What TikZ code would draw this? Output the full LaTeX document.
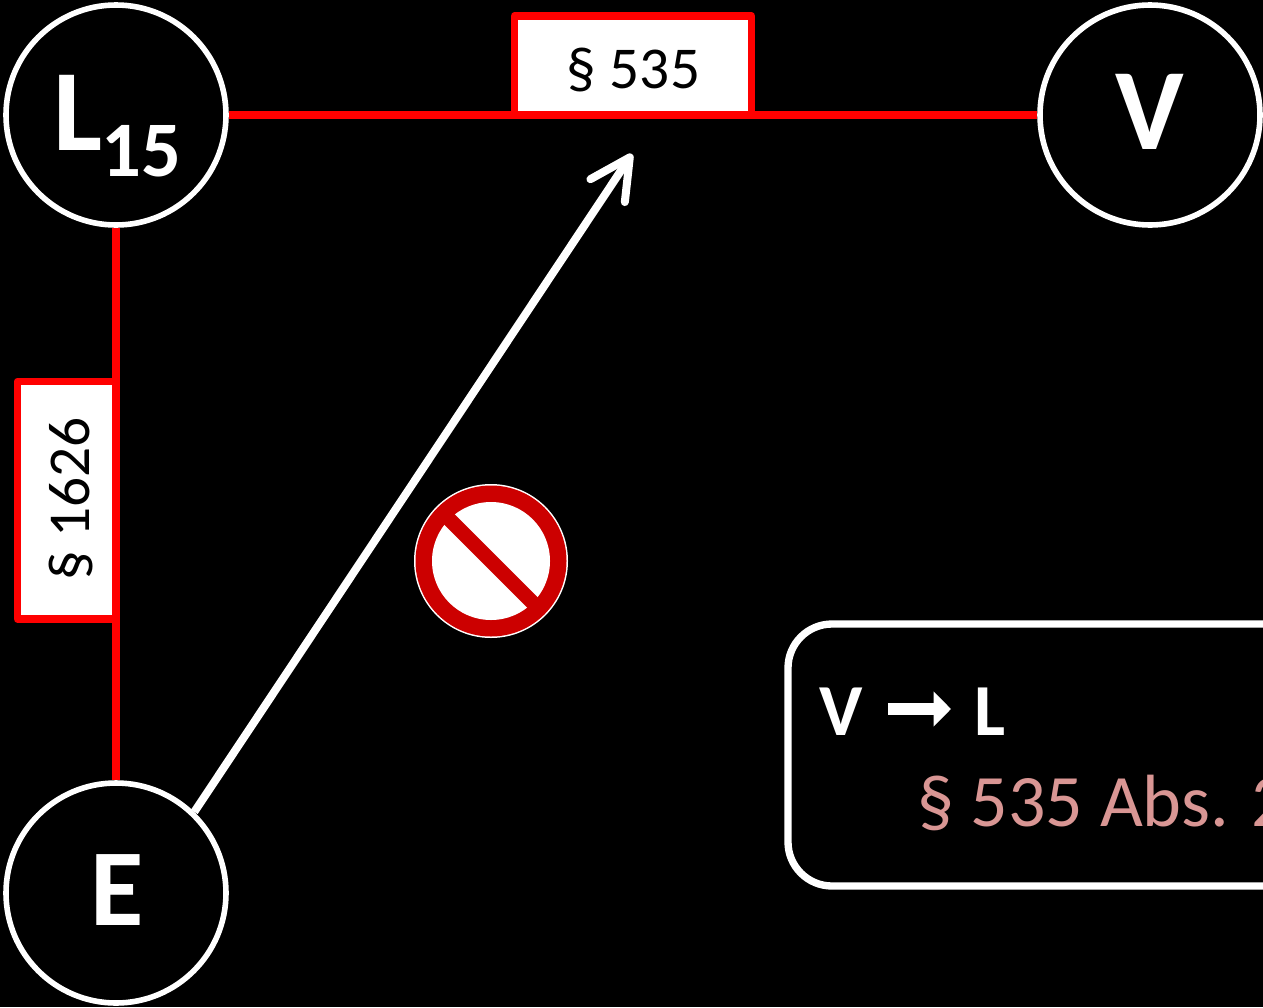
\documentclass[tikz,border=0pt]{standalone}
\usepackage{fontspec}
\setmainfont{Carlito}
\usetikzlibrary{arrows.meta}
\definecolor{signred}{HTML}{CC0000}
\definecolor{pinktext}{HTML}{D99694}
\newcommand{\fs}[1]{\fontsize{#1}{#1}\selectfont}
\tikzset{
  x=0.75pt,y=-0.75pt,
  party/.style={circle,draw=white,fill=black,line width=4.2pt,minimum size=165pt,inner sep=0pt},
  partytext/.style={text=white,font=\bfseries,inner sep=0pt,anchor=base},
  legal/.style={draw=red,line width=5.5pt},
  tagbox/.style={draw=red,fill=white,line width=5.5pt,line join=round},
  tagtext/.style={text=black,inner sep=0pt,anchor=base},
  forbidden/.style={draw=white,line width=6pt,-{Straight Barb[length=30pt,width=31pt,round]}},
}
\begin{document}
\begin{tikzpicture}
\useasboundingbox (0,0) rectangle (1263,1007);
\clip (0,0) rectangle (1263,1007);
\fill[black] (0,0) rectangle (1263,1007);

% parties
\node[party] (L) at (116,115) {};
\node[party] (V) at (1150,115) {};
\node[party] (E) at (116,893) {};
\node[partytext] (Lt) at (117.5,150) {\fs{87}L\kern-1pt\raisebox{-20pt}{\fs{59}15}};
\node[partytext] (Vt) at (1150,149.5) {\fs{87}V};
\node[partytext] (Et) at (117,925) {\fs{82}E};

% red relations
\draw[legal] (L.east) -- (V.west);
\draw[legal] (L.south) -- (E.north);

% tag boxes
\path[tagbox] (514.5,115) -- (514.5,16) -- (751.5,16) -- (751.5,115) -- cycle;
\node[tagtext] (t535) at (633.5,88) {\fs{44.5}§ 535};
\path[tagbox] (116,381.5) -- (17.5,381.5) -- (17.5,619) -- (116,619) -- cycle;
\node[tagtext,rotate=90] (t1626) at (89,499) {\fs{44.5}§ 1626};

% forbidden arrow
\coordinate (tip) at (632,154);
\draw[forbidden] (E.46) -- (tip);

% prohibition sign
\fill[white] (491,561) circle (77);
\fill[signred] (491,561) circle (75.5);
\fill[white] (491,561) circle (59);
\begin{scope}
  \clip (491,561) circle (66);
  \draw[signred,line width=11pt] (435,505) -- (547,617);
\end{scope}

% legend
\draw[white,line width=5.5pt,rounded corners=33pt] (1320,624) -- (788,624) -- (788,886) -- (1320,886);
\node[partytext] (legV) at (841,735) {\fs{55}V};
\node[partytext] (legL) at (990,735) {\fs{55}L};
\draw[white,line width=9pt,-{Triangle[length=13pt,width=25.5pt]}] (888,709) -- (951,709);
\node[text=pinktext,inner sep=0pt,anchor=base west] (legT) at (917,826) {\fs{55.5}§ 535 Abs. 2};
\end{tikzpicture}
\end{document}
